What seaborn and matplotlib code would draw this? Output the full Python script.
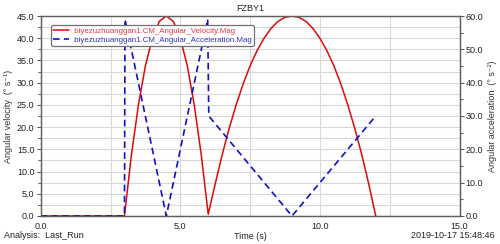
import pandas as pd
import seaborn as sns
import matplotlib.pyplot as plt
from matplotlib.ticker import MultipleLocator, FormatStrFormatter
from matplotlib.lines import Line2D

# values
vel_time = [0.0, 3.0, 3.25, 3.5, 3.75, 4.0, 4.25, 4.5, 4.75, 5.0, 5.25, 5.5, 5.75, 6.0,
            6.25, 6.5, 6.75, 7.0, 7.25, 7.5, 7.75, 8.0, 8.25, 8.5, 8.75, 9.0,
            9.25, 9.5, 9.75, 10.0, 10.25, 10.5, 10.75, 11.0, 11.25, 11.5, 11.75, 12.0]
vel_mag = [0.0, 0.0, 13.8, 25.0, 33.8, 40.0, 43.8, 45.0, 43.8, 40.0, 33.8, 25.0, 13.8, 0.4,
           7.2, 13.8, 19.7, 25.0, 29.7, 33.8, 37.2, 40.0, 42.2, 43.8, 44.7, 45.0,
           44.7, 43.8, 42.2, 40.0, 37.2, 33.8, 29.7, 25.0, 19.7, 13.8, 7.2, 0.0]
acc_time = [0.0, 3.0, 3.02, 4.5, 5.98, 6.02, 9.0, 12.0]
acc_mag = [0.0, 0.0, 59.0, 0.0, 59.0, 30.0, 0.0, 30.0]

vel_label = ".biyezuzhuanggan1.CM_Angular_Velocity.Mag"
acc_label = ".biyezuzhuanggan1.CM_Angular_Acceleration.Mag"

col_red = "#dd0a0a"
col_blue = "#1010c8"

vel = pd.DataFrame({"t": vel_time, "v": vel_mag})
acc = pd.DataFrame({"t": acc_time, "a": acc_mag})

sns.set_theme(style="white")
plt.rcParams["font.family"] = ["Liberation Sans", "DejaVu Sans"]
plt.rcParams["font.size"] = 6.5

fig = plt.figure(figsize=(5, 2.44), dpi=100)
ax = fig.add_axes([0.0814, 0.1148, 0.8376, 0.8196])
ax2 = ax.twinx()

sns.lineplot(data=vel, x="t", y="v", ax=ax, color=col_red, linewidth=1.1, legend=False)
sns.lineplot(data=acc, x="t", y="a", ax=ax2, color=col_blue, linewidth=1.2,
             linestyle=(0, (4, 2.5)), legend=False)

ax.set(xlim=(0, 15), ylim=(0, 45))
ax2.set_ylim(0, 60)

ax.xaxis.set_major_locator(MultipleLocator(5))
ax.xaxis.set_minor_locator(MultipleLocator(2.5))
ax.yaxis.set_major_locator(MultipleLocator(5))
ax.yaxis.set_minor_locator(MultipleLocator(2.5))
ax2.yaxis.set_major_locator(MultipleLocator(10))
ax2.yaxis.set_minor_locator(MultipleLocator(5))
for a in (ax.xaxis, ax.yaxis, ax2.yaxis):
    a.set_major_formatter(FormatStrFormatter("%.1f"))

ax.grid(which="both", color="#d8d8d8", linewidth=0.8)
ax.set_axisbelow(True)

for a in (ax, ax2):
    a.tick_params(which="both", direction="out", color="#505050", labelsize=6.5,
                  labelcolor="#222222", length=3, width=0.7, pad=1.5)
    a.tick_params(which="minor", length=2)
    for s in a.spines.values():
        s.set_color("#606060")
        s.set_linewidth(0.9)

ax.set_xlabel("Time (s)", fontsize=6.5, labelpad=0.5, color="#222222")
ax.set_ylabel("Angular velocity  (° s⁻¹)", fontsize=6.5, labelpad=3, color="#333333")
ax2.set_ylabel("Angular acceleration  (° s⁻²)", fontsize=6.5, labelpad=3, color="#333333")
ax.set_title("FZBY1", fontsize=6.5, pad=3.5, color="#222222")

handles = [Line2D([], [], color=col_red, linewidth=1.1),
           Line2D([], [], color=col_blue, linewidth=1.2, linestyle=(0, (4, 2.5)))]
leg = ax2.legend(handles, [vel_label, acc_label], loc="upper left",
                 bbox_to_anchor=(0.015, 0.975), fontsize=5.7, frameon=True,
                 handlelength=2.0, handletextpad=0.35, borderpad=0.3,
                 labelspacing=0.15, fancybox=True, framealpha=1,
                 edgecolor="#707070")
leg.get_frame().set_linewidth(0.9)
leg.get_texts()[0].set_color("#e03a48")
leg.get_texts()[1].set_color("#3030c0")

fig.text(0.008, 0.025, "Analysis:  Last_Run", fontsize=6.5, color="#222222")
fig.text(0.99, 0.025, "2019-10-17 15:48:46", fontsize=6.5, color="#222222", ha="right")

fig.savefig("out.png", dpi=100)
